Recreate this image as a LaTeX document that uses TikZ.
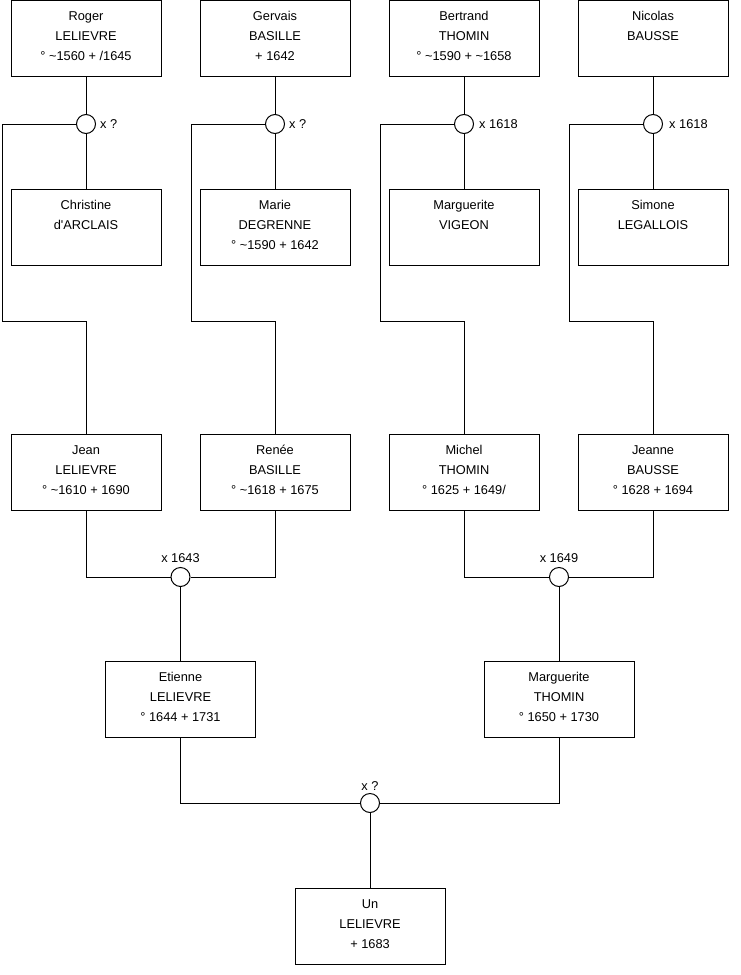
\documentclass[tikz,border=0pt]{standalone}
\usepackage{fontspec}
\setmainfont{Liberation Sans}
\newcommand\tld{\textasciitilde}
\newcommand\apo{\textquotesingle}
\tikzset{
  pbox/.style={draw=black, line width=1pt, fill=white, minimum width=150pt, minimum height=76pt, inner sep=0pt},
  ptext/.style={anchor=north, align=center, inner sep=0pt, font=\fontsize{12.8}{20}\selectfont},
  mring/.style={draw=black, line width=1pt, fill=white, circle, minimum size=19pt, inner sep=0pt},
  mlab/.style={inner sep=0pt, font=\fontsize{12.8}{15}\selectfont},
  link/.style={draw=black, line width=1pt},
}
\newcommand\person[3]{%
  \node[pbox] (#1) at (#2) {};
  \node[ptext] (#1t) at ([yshift=-6.5pt]#1.north) {\strut #3};}
\begin{document}
\begin{tikzpicture}[x=1pt,y=-1pt]
\useasboundingbox (0,0) rectangle (740,975);
% row 1
\person{rl}{86,38.5}{Roger\\LELIEVRE\\° \tld1560 + /1645}
\person{gb}{275,38.5}{Gervais\\BASILLE\\+ 1642}
\person{bt}{464,38.5}{Bertrand\\THOMIN\\° \tld1590 + \tld1658}
\person{nb}{653,38.5}{Nicolas\\BAUSSE}
% row 2
\person{ca}{86,227}{Christine\\d\apo ARCLAIS}
\person{md}{275,227}{Marie\\DEGRENNE\\° \tld1590 + 1642}
\person{mv}{464,227}{Marguerite\\VIGEON}
\person{sl}{653,227}{Simone\\LEGALLOIS}
% row 3
\person{jl}{86,472.5}{Jean\\LELIEVRE\\° \tld1610 + 1690}
\person{rb}{275,472.5}{Renée\\BASILLE\\° \tld1618 + 1675}
\person{mt}{464,472.5}{Michel\\THOMIN\\° 1625 + 1649/}
\person{jb}{653,472.5}{Jeanne\\BAUSSE\\° 1628 + 1694}
% row 4
\person{el}{180.5,699.5}{Etienne\\LELIEVRE\\° 1644 + 1731}
\person{mg}{559,699.5}{Marguerite\\THOMIN\\° 1650 + 1730}
% row 5
\person{ul}{370,926}{Un\\LELIEVRE\\+ 1683}

% marriage rings, top
\node[mring] (m1) at (86,124) {};
\node[mring] (m2) at (275,124) {};
\node[mring] (m3) at (464,124) {};
\node[mring] (m4) at (653,124) {};
\node[mlab, anchor=west] (l1) at (100,124) {x ?};
\node[mlab, anchor=west] (l2) at (289,124) {x ?};
\node[mlab, anchor=west] (l3) at (479,124) {x 1618};
\node[mlab, anchor=west] (l4) at (669,124) {x 1618};

\coordinate (k1) at (2,124);   \coordinate (k1b) at (2,321);
\coordinate (k2) at (191,124); \coordinate (k2b) at (191,321);
\coordinate (k3) at (380,124); \coordinate (k3b) at (380,321);
\coordinate (k4) at (569,124); \coordinate (k4b) at (569,321);

\draw[link] (rl) -- (m1) -- (ca);
\draw[link] (gb) -- (m2) -- (md);
\draw[link] (bt) -- (m3) -- (mv);
\draw[link] (nb) -- (m4) -- (sl);

\draw[link] (m1.west) -- (k1) -- (k1b) -| (jl.north);
\draw[link] (m2.west) -- (k2) -- (k2b) -| (rb.north);
\draw[link] (m3.west) -- (k3) -- (k3b) -| (mt.north);
\draw[link] (m4.west) -- (k4) -- (k4b) -| (jb.north);

% marriage rings, lower
\node[mring] (m5) at (180.5,577) {};
\node[mring] (m6) at (559,577) {};
\node[mring] (m7) at (370,803) {};
\node[mlab] (l5) at (180.5,558) {x 1643};
\node[mlab] (l6) at (559,558) {x 1649};
\node[mlab] (l7) at (370,786) {x ?};

\draw[link] (jl.south) |- (m5.west);
\draw[link] (rb.south) |- (m5.east);
\draw[link] (m5) -- (el);
\draw[link] (mt.south) |- (m6.west);
\draw[link] (jb.south) |- (m6.east);
\draw[link] (m6) -- (mg);
\draw[link] (el.south) |- (m7.west);
\draw[link] (mg.south) |- (m7.east);
\draw[link] (m7) -- (ul);
\end{tikzpicture}
\end{document}
